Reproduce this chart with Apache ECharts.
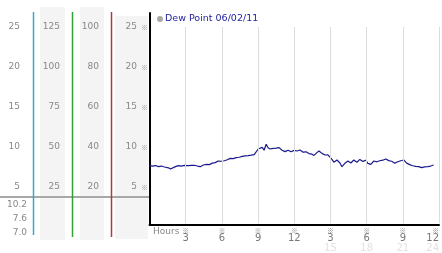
<!DOCTYPE html>
<html>
<head>
<meta charset="utf-8">
<script src="https://cdn.jsdelivr.net/npm/echarts@6/dist/echarts.min.js"></script>
<style>html,body{margin:0;padding:0;background:#fff}#c{width:442px;height:253px}</style>
</head>
<body>
<div id="c"></div>
<script>
// ---- data ----
const seriesName = 'Dew Point 06/02/11';
const hours = [0.00,0.25,0.50,0.74,0.99,1.24,1.40,1.57,1.74,1.90,2.15,2.40,2.64,2.89,3.22,3.47,3.72,3.97,4.21,4.46,4.71,4.96,5.21,5.45,5.70,5.95,6.20,6.45,6.69,6.94,7.19,7.44,7.69,7.93,8.18,8.43,8.68,8.84,9.01,9.17,9.34,9.50,9.67,9.83,10.00,10.25,10.50,10.74,10.99,11.24,11.49,11.74,11.98,12.23,12.48,12.73,12.98,13.22,13.47,13.64,13.88,14.05,14.30,14.55,14.79,15.04,15.29,15.54,15.79,15.95,16.20,16.45,16.69,16.94,17.19,17.44,17.69,17.93,18.10,18.35,18.60,18.84,19.09,19.34,19.59,19.83,20.08,20.33,20.58,20.83,21.07,21.32,21.57,21.82,22.07,22.31,22.56,22.81,23.06,23.31,23.55];
const dewPoint = [7.70,7.62,7.68,7.55,7.62,7.50,7.75,7.40,7.25,7.45,7.55,7.68,7.62,7.70,7.66,7.70,7.72,7.62,7.54,7.75,7.82,7.80,7.98,8.05,8.25,8.22,8.28,8.40,8.58,8.55,8.68,8.72,8.82,8.90,8.92,8.98,9.05,9.30,9.75,9.85,9.95,9.60,10.35,9.90,9.75,9.83,9.85,9.92,9.60,9.42,9.60,9.40,9.58,9.50,9.62,9.35,9.40,9.18,9.10,8.95,9.30,9.50,9.20,9.00,9.02,8.60,8.10,8.38,8.00,7.54,7.96,8.25,8.00,8.38,8.10,8.45,8.20,8.35,7.96,7.83,8.25,8.15,8.28,8.35,8.50,8.30,8.22,7.98,8.15,8.28,8.38,7.98,7.80,7.66,7.58,7.55,7.42,7.52,7.54,7.62,7.75];
const xTickHours = [3,6,9,12,15,18,21,24];
const gridLevels = [5,10,15,20,25];
const scaleMins = [5,25,20,5];
const scaleMaxs = [25,125,100,25];
const scaleSteps = [5,25,20,5];
const currentReadings = ['10.2','7.6','7.0'];

// ---- layout ----
const FONT = 'DejaVu Sans';
const MARKFONT = 'Noto Sans CJK SC';
const colLeft = [23,63,102,150];
const yMin = 0.25, yMax = 26.75;

const grids = [{left:149.5, top:13, width:290.5, height:212}];
const xAxes = [{
  gridIndex:0, type:'value', min:0, max:24, interval:3,
  axisLine:{show:true, lineStyle:{color:'#000', width:2}},
  axisTick:{show:false}, splitLine:{show:false},
  axisLabel:{
    show:true, margin:2, alignMaxLabel:'right',
    formatter: v => {
      if (v === 0 || v % 3 !== 0) return '';
      const top = v > 12 ? v - 12 : v;
      return '{s|※}\n{n|' + top + '}' + (v > 12 ? '\n{f|' + v + '}' : '');
    },
    rich:{
      s:{fontSize:7, lineHeight:7, color:'#888', fontFamily:MARKFONT},
      n:{fontSize:10, lineHeight:9, color:'#777', fontFamily:FONT},
      f:{fontSize:10, lineHeight:10, color:'#e2e2e2', fontFamily:FONT}
    }
  }
}];
const yAxes = [{
  gridIndex:0, type:'value', min:yMin, max:yMax,
  axisLine:{show:true, lineStyle:{color:'#000', width:2}},
  axisTick:{show:false}, axisLabel:{show:false}, splitLine:{show:false}
}];
for (let i = 0; i < 4; i++) {
  grids.push({left:colLeft[i], top:27, width:1, height:160});
  xAxes.push({gridIndex:i+1, type:'value', show:false, min:0, max:1});
  const lab = {show:true, margin: i === 3 ? 2 : 3, color:'#888', fontSize:9, fontFamily:FONT};
  if (i === 3) {
    lab.formatter = v => '{n|' + v + '}{s|※}';
    lab.rich = {n:{fontSize:9, color:'#888', fontFamily:FONT}, s:{fontSize:7, color:'#999', padding:[0,0,0,4], fontFamily:MARKFONT}};
  }
  yAxes.push({gridIndex:i+1, type:'value', min:scaleMins[i], max:scaleMaxs[i], interval:scaleSteps[i],
    axisLine:{show:false}, axisTick:{show:false}, splitLine:{show:false}, axisLabel:lab});
}

const gridLines = [];
gridLevels.forEach(l => gridLines.push([{coord:[0,l]},{coord:[24.2,l]}]));
xTickHours.forEach(h => gridLines.push([{coord:[h,0.45]},{coord:[h,25]}]));

const graphics = [
  {type:'rect', shape:{x:40,y:7,width:25,height:233}, style:{fill:'#f4f4f4'}, z:-10},
  {type:'rect', shape:{x:80,y:7,width:24,height:233}, style:{fill:'#f4f4f4'}, z:-10},
  {type:'rect', shape:{x:115,y:16,width:33,height:223}, style:{fill:'#f4f4f4'}, z:-10},
  {type:'line', shape:{x1:0,y1:197,x2:149,y2:197}, style:{stroke:'#a8a8a8', lineWidth:2}, z:1},
  {type:'line', shape:{x1:33.5,y1:12,x2:33.5,y2:235}, style:{stroke:'#3aa6c8', lineWidth:1.5}, z:2},
  {type:'line', shape:{x1:72.5,y1:12,x2:72.5,y2:237}, style:{stroke:'#33a033', lineWidth:1.5}, z:2},
  {type:'line', shape:{x1:111.5,y1:12,x2:111.5,y2:237}, style:{stroke:'#b03a3a', lineWidth:1.5}, z:2},
  {type:'text', left:153, top:227, style:{text:'Hours', fill:'#888', font:'9px "DejaVu Sans"'}}
];
const readY = [205,219,232.5];
currentReadings.forEach((t,i) => graphics.push({type:'text', x:27, y:readY[i],
  style:{text:t, fill:'#888', font:'9px "DejaVu Sans"', align:'right', verticalAlign:'middle'}}));

const chart = echarts.init(document.getElementById('c'), null, {renderer:'canvas'});
chart.setOption({
  animation:false,
  backgroundColor:'#fff',
  grid:grids, xAxis:xAxes, yAxis:yAxes,
  legend:{
    show:true, selectedMode:false, left:157, top:14, padding:0,
    itemWidth:6, itemHeight:6,
    data:[{name:seriesName, icon:'circle', itemStyle:{color:'#a8a8a8', borderWidth:0}}],
    textStyle:{color:'#2424a0', fontSize:9.5, fontFamily:FONT, padding:[0,0,0,-3]}
  },
  graphic:graphics,
  series:[
    {type:'line', name:'_grid', xAxisIndex:0, yAxisIndex:0, data:[], clip:false, z:1, silent:true,
      markLine:{silent:true, symbol:['none','none'], label:{show:false},
        lineStyle:{color:'#dcdcdc', width:1, type:'solid'}, emphasis:{disabled:true}, data:gridLines}},
    {type:'line', name:seriesName, xAxisIndex:0, yAxisIndex:0, z:3,
      data:hours.map((h,i) => [h, dewPoint[i]]),
      showSymbol:false, lineStyle:{color:'#1a1a8c', width:1.2}, itemStyle:{color:'#1a1a8c'}}
  ]
});
</script>
</body>
</html>
